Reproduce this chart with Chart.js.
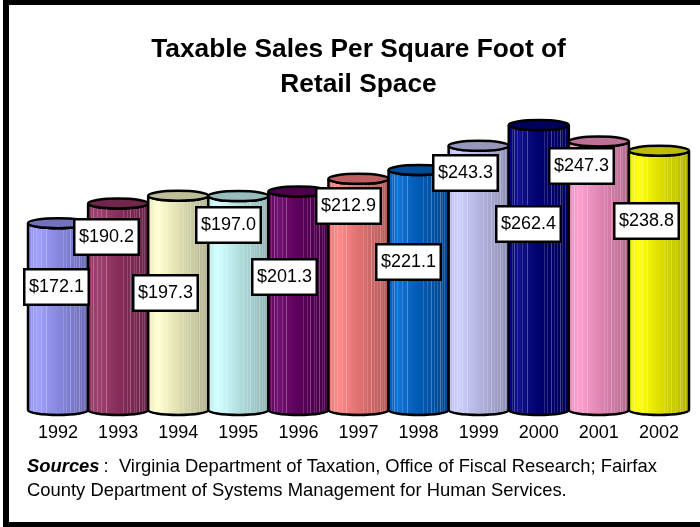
<!DOCTYPE html>
<html>
<head>
<meta charset="utf-8">
<script src="https://cdn.jsdelivr.net/npm/chart.js@4.4.1/dist/chart.umd.min.js"></script>
<style>
  html, body { margin: 0; padding: 0; background: #fff; }
  #marco { width: 700px; height: 527px; position: relative; }
</style>
</head>
<body>
<div id="marco"><canvas id="grafico" width="700" height="527"></canvas></div>
<script>
// Datos: ventas gravables por pie cuadrado de espacio comercial
const anios = ['1992', '1993', '1994', '1995', '1996', '1997', '1998', '1999', '2000', '2001', '2002'];
const ventasPorPie = [172.1, 190.2, 197.3, 197.0, 201.3, 212.9, 221.1, 243.3, 262.4, 247.3, 238.8];
const etiquetasValor = ventasPorPie.map(v => '$' + v.toFixed(1));

// Colores de cada cilindro (paleta clásica de Excel)
const coloresBarra = ['#9999ff', '#993366', '#ffffcc', '#ccffff', '#660066', '#ff8080',
                      '#0066cc', '#ccccff', '#000080', '#ff99cc', '#ffff00'];

// Desplazamiento de cada rótulo respecto al centro superior de su cilindro [dx, dy]
const desplazRotulos = [[-2, 64], [-12, 33], [-13, 97], [-10, 28.5], [-14, 85.5], [-10.5, 27],
                        [-10.5, 92], [-13, 27.5], [-10.5, 99], [-17, 24.5], [-12.5, 70]];

const FUENTE = 'Arial, "Liberation Sans", sans-serif';
const rayas = [0.05, 0.09, 0.14, 0.22, 0.3, 0.58, 0.64, 0.7, 0.76, 0.8, 0.85, 0.89, 0.93];

function tono(hex, f) {
    const n = parseInt(hex.slice(1), 16);
    const c = [(n >> 16) & 255, (n >> 8) & 255, n & 255].map(v => Math.max(0, Math.min(255, Math.round(v * f))));
    return `rgb(${c[0]},${c[1]},${c[2]})`;
}

function aclarar(hex, f) {
    const n = parseInt(hex.slice(1), 16);
    const c = [(n >> 16) & 255, (n >> 8) & 255, n & 255].map(v => Math.round(v + (255 - v) * f));
    return `rgb(${c[0]},${c[1]},${c[2]})`;
}

function dibujarCilindro(ctx, cx, top, base, ancho, color) {
    const izq = cx - ancho / 2, der = cx + ancho / 2;
    const rx = ancho / 2, ry = 5;

    const grad = ctx.createLinearGradient(izq, 0, der, 0);
    grad.addColorStop(0, tono(color, 0.92));
    grad.addColorStop(0.16, aclarar(color, 0.08));
    grad.addColorStop(0.5, tono(color, 0.88));
    grad.addColorStop(1, tono(color, 0.7));

    // cuerpo
    ctx.beginPath();
    ctx.moveTo(izq, top);
    ctx.lineTo(izq, base);
    ctx.ellipse(cx, base, rx, ry, 0, Math.PI, 0, true);
    ctx.lineTo(der, top);
    ctx.ellipse(cx, top, rx, ry, 0, 0, Math.PI, false);
    ctx.closePath();
    ctx.fillStyle = grad;
    ctx.fill();

    // textura de rayas finas
    ctx.save();
    ctx.clip();
    rayas.forEach((f, k) => {
        ctx.fillStyle = k % 3 === 1 ? 'rgba(255,255,255,0.28)' : 'rgba(255,255,255,0.16)';
        ctx.fillRect(Math.round(izq + f * ancho), top, 1, base - top + ry + 2);
    });
    ctx.restore();

    ctx.lineWidth = 2.5;
    ctx.strokeStyle = '#000';
    ctx.stroke();

    // tapa
    ctx.beginPath();
    ctx.ellipse(cx, top, rx, ry, 0, 0, Math.PI * 2);
    ctx.fillStyle = tono(color, 0.74);
    ctx.fill();
    ctx.stroke();
}

const cilindros = {
    id: 'cilindros',
    afterDatasetsDraw(chart) {
        const ctx = chart.ctx;
        const meta = chart.getDatasetMeta(0);
        ctx.save();
        meta.data.forEach((barra, i) => {
            const { x, y, base, width } = barra.getProps(['x', 'y', 'base', 'width'], true);
            dibujarCilindro(ctx, x, y, base, width, coloresBarra[i]);
        });

        // rótulos con el valor
        ctx.font = '18px ' + FUENTE;
        ctx.textAlign = 'center';
        ctx.textBaseline = 'middle';
        meta.data.forEach((barra, i) => {
            const { x, y } = barra.getProps(['x', 'y'], true);
            const txt = etiquetasValor[i];
            const bw = Math.round(ctx.measureText(txt).width + 12), bh = 38;
            const cx = x + desplazRotulos[i][0], cy = y + desplazRotulos[i][1];
            const bx = Math.round(cx - bw / 2), by = Math.round(cy - bh / 2);
            ctx.fillStyle = '#fff';
            ctx.fillRect(bx, by, bw, bh);
            ctx.lineWidth = 2.5;
            ctx.strokeStyle = '#000';
            ctx.strokeRect(bx + 1.25, by + 1.25, bw - 2.5, bh - 2.5);
            ctx.fillStyle = '#000';
            ctx.fillText(txt, bx + bw / 2, by + bh / 2);
        });
        ctx.restore();
    },
    afterDraw(chart) {
        const ctx = chart.ctx;
        ctx.save();
        // nota de fuentes
        ctx.fillStyle = '#000';
        ctx.textAlign = 'left';
        ctx.textBaseline = 'middle';
        ctx.font = 'italic bold 18.4px ' + FUENTE;
        ctx.fillText('Sources', 27, 467);
        const w = ctx.measureText('Sources').width;
        ctx.font = '18.4px ' + FUENTE;
        ctx.fillText(':  Virginia Department of Taxation, Office of Fiscal Research; Fairfax', 27 + w + 4, 467);
        ctx.fillText('County Department of Systems Management for Human Services.', 27, 491);

        // marco
        ctx.fillRect(3, 0, 697, 5);
        ctx.fillRect(3, 0, 6, 527);
        ctx.fillRect(3, 522, 697, 5);
        ctx.restore();
    }
};

new Chart(document.getElementById('grafico'), {
    type: 'bar',
    data: {
        labels: anios,
        datasets: [{
            data: ventasPorPie,
            backgroundColor: 'transparent',
            borderWidth: 0,
            barPercentage: 1,
            categoryPercentage: 1
        }]
    },
    options: {
        responsive: false,
        animation: false,
        layout: { padding: { left: 28, right: 11, top: 0, bottom: 71.4 } },
        plugins: {
            legend: { display: false },
            tooltip: { enabled: false },
            title: {
                display: true,
                text: ['Taxable Sales Per Square Foot of', 'Retail Space'],
                color: '#000',
                font: { family: FUENTE, size: 26.3, weight: 'bold', lineHeight: 1.35 },
                padding: { top: 31.5, bottom: 3.5 }
            }
        },
        scales: {
            x: {
                grid: { display: false, drawTicks: false },
                border: { display: false },
                ticks: { color: '#000', padding: 12, font: { family: FUENTE, size: 18 } }
            },
            y: { display: false, min: 0, max: 280 }
        }
    },
    plugins: [cilindros]
});
</script>
</body>
</html>
